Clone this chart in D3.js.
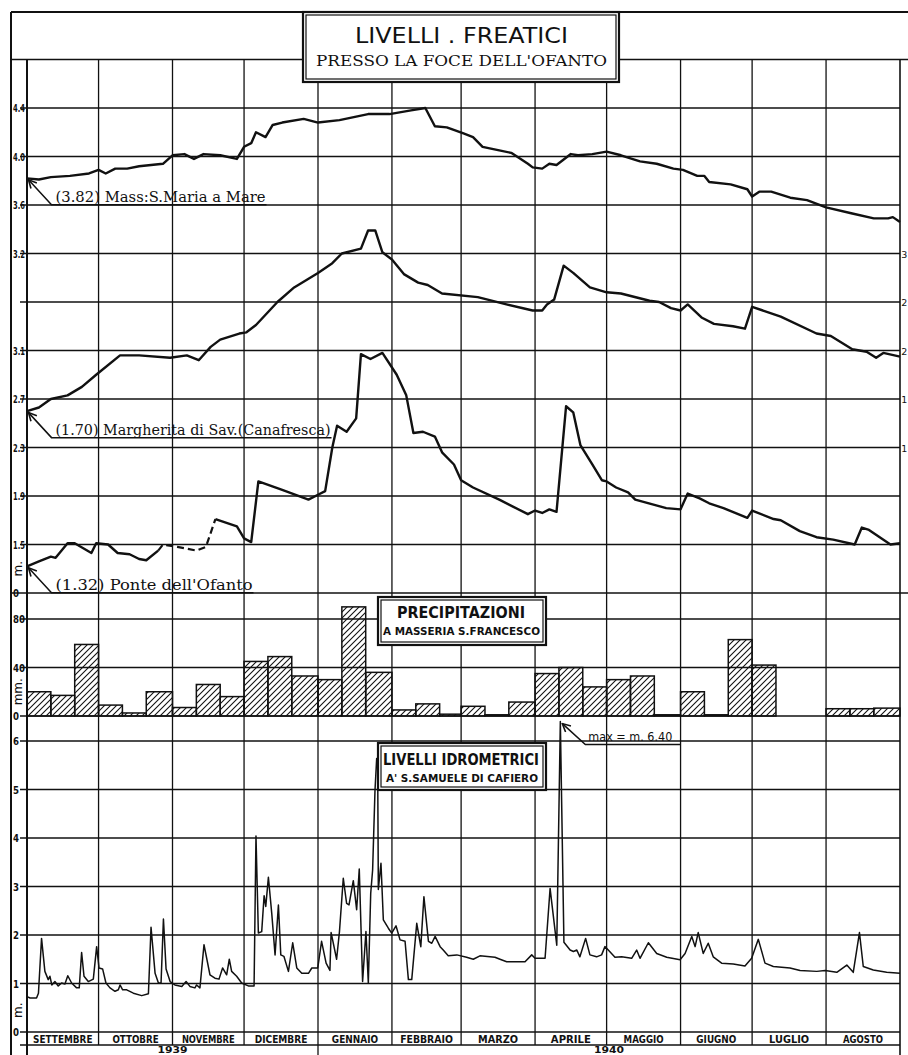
<!DOCTYPE html>
<html>
<head>
<meta charset="utf-8">
<script src="https://d3js.org/d3.v7.min.js"></script>
<style>
  body { margin: 0; background: #fff; }
  text { fill: #111; }
</style>
</head>
<body>
<div id="viz-wrapper"></div>
<script>
let width = 908,
    height = 1055;

// hydrological year Sep 1939 - Aug 1940 (1940 is a leap year)
let months = ['SETTEMBRE', 'OTTOBRE', 'NOVEMBRE', 'DICEMBRE', 'GENNAIO', 'FEBBRAIO',
              'MARZO', 'APRILE', 'MAGGIO', 'GIUGNO', 'LUGLIO', 'AGOSTO'];
let monthDays = [30, 31, 30, 31, 31, 29, 31, 30, 31, 30, 31, 31];
let years = [{label: '1939', from: 0, to: 4}, {label: '1940', from: 4, to: 12}];

// phreatic levels: [days since 1 Sep 1939, metres]
let massMaria = [[0,3.82],[5,3.81],[10,3.83],[18,3.84],[26,3.86],[30,3.89],[33,3.86],[37,3.90],[42,3.90],[47,3.92],
  [57,3.94],[61,4.01],[66,4.02],[70,3.98],[74,4.02],[81,4.01],[88,3.98],[91,4.08],[94,4.11],[96,4.20],[100,4.16],
  [103,4.26],[107,4.28],[116,4.31],[122,4.28],[131,4.30],[143,4.35],[152,4.35],[161,4.38],[167,4.40],[171,4.25],
  [176,4.24],[183,4.19],[187,4.16],[191,4.08],[198,4.05],[203,4.03],[210,3.94],[212,3.91],[216,3.90],[219,3.94],
  [222,3.93],[228,4.02],[231,4.01],[237,4.02],[243,4.04],[249,4.01],[257,3.96],[264,3.94],[271,3.90],[275,3.89],
  [281,3.84],[284,3.84],[286,3.79],[295,3.77],[302,3.73],[304,3.67],[307,3.71],[312,3.71],[320,3.66],[327,3.64],
  [335,3.58],[346,3.53],[355,3.49],[361,3.49],[363,3.50],[366,3.46]];

let margherita = [[0,1.70],[5,1.73],[10,1.80],[17,1.83],[23,1.90],[29,2.00],[39,2.16],[47,2.16],[60,2.14],[67,2.16],
  [72,2.12],[77,2.23],[81,2.29],[89,2.34],[92,2.35],[96,2.41],[105,2.60],[112,2.72],[117,2.78],[122,2.84],[128,2.92],
  [132,3.00],[140,3.04],[143,3.19],[146,3.19],[149,3.01],[153,2.95],[158,2.83],[164,2.76],[168,2.74],[174,2.67],
  [189,2.64],[201,2.58],[212,2.53],[216,2.53],[218,2.58],[221,2.62],[225,2.90],[229,2.84],[236,2.72],[243,2.68],
  [249,2.67],[261,2.61],[265,2.60],[270,2.55],[274,2.53],[277,2.58],[283,2.47],[288,2.42],[296,2.40],[301,2.38],
  [304,2.56],[316,2.48],[331,2.34],[337,2.32],[346,2.21],[352,2.19],[356,2.14],[359,2.18],[366,2.15]];

let ponteOfanto = [[0,1.32],[5,1.36],[10,1.40],[12,1.39],[17,1.51],[20,1.51],[27,1.43],[29,1.51],[34,1.50],[38,1.43],
  [43,1.42],[47,1.38],[50,1.37],[55,1.45],[57,1.50],[63,1.48],[71,1.45],[75,1.48],[79,1.71],[88,1.65],[91,1.55],
  [94,1.52],[97,2.02],[107,1.95],[118,1.87],[122,1.91],[125,1.94],[128,2.30],[130,2.48],[134,2.43],[138,2.54],
  [140,3.07],[144,3.03],[149,3.08],[155,2.90],[159,2.73],[162,2.42],[166,2.43],[171,2.39],[174,2.26],[179,2.16],
  [182,2.03],[187,1.97],[198,1.87],[210,1.75],[213,1.78],[216,1.76],[219,1.79],[222,1.77],[226,2.64],[229,2.59],
  [232,2.32],[237,2.16],[241,2.03],[243,2.02],[247,1.97],[252,1.93],[255,1.87],[268,1.80],[274,1.79],[277,1.92],
  [282,1.88],[286,1.84],[292,1.80],[302,1.72],[304,1.78],[313,1.71],[316,1.70],[324,1.61],[331,1.56],[338,1.54],
  [347,1.50],[350,1.64],[353,1.62],[362,1.50],[366,1.51]];
let ponteGap = [55, 79]; // stretch drawn dashed (uncertain readings)

// rainfall at Masseria S.Francesco, mm per decade (3 per month)
let rain = [20,17,59, 9,2.5,20, 7,26,16, 45,49,33, 30,90,36, 5,10,1.5,
            8,1,11.5, 35,40,24, 30,33,1, 20,1,63, 42,0,0, 6,6,6.5];

// river stage at S.Samuele di Cafiero: [days since 1 Sep 1939, metres]
let hydro = [[0,0.73],[1.3,0.70],[4,0.70],[4.8,0.80],[6.1,1.93],[7.5,1.25],[8.9,1.08],[9.6,1.15],[10.4,0.97],
  [11.7,1.04],[13.1,0.95],[14.5,1.01],[15.9,0.99],[17.1,1.16],[18.7,1.01],[20.8,0.91],[21.9,0.91],[22.9,1.64],
  [23.9,1.15],[25.7,1.04],[27.8,1.09],[29.2,1.76],[30.2,1.32],[31.7,1.30],[33.1,1.01],[34.8,0.91],[36.9,0.84],
  [38.3,0.87],[39,0.97],[40.1,0.87],[41.8,0.87],[44.6,0.80],[48.1,0.75],[50.9,0.79],[52,2.16],[53.7,1.21],
  [55.1,1.01],[56.2,1.01],[57.2,2.33],[58.3,1.30],[60,1.04],[62,0.97],[64.9,0.94],[66.7,1.04],[68.3,0.94],
  [70.4,0.91],[71.1,0.97],[72.5,0.91],[74.2,1.80],[76.7,1.18],[78.8,1.11],[80.5,1.09],[82,1.32],[83.7,1.18],
  [84.8,1.50],[85.8,1.25],[87.9,1.15],[90,1.01],[92.8,0.95],[95.2,0.95],[96,4.04],[97,2.04],[98.4,2.07],
  [99.4,2.81],[100.1,2.59],[101.2,3.19],[102.6,2.45],[104,1.59],[105.4,2.62],[106.4,1.59],[107.7,1.56],
  [109.6,1.25],[111.4,1.84],[113.1,1.32],[115.2,1.21],[118,1.21],[119.4,1.32],[121.9,1.32],[123.5,1.87],
  [125.4,1.42],[127,1.27],[127.5,2.05],[129.8,1.50],[131,2.07],[132.6,3.17],[134,2.65],[135,2.62],[136.8,3.12],
  [138.2,2.52],[139.3,3.36],[140.7,1.04],[142.1,2.07],[143.1,1.01],[144.1,2.86],[144.9,3.34],[145.9,4.99],
  [146.6,5.64],[147,5.64],[147.3,2.94],[148.4,3.48],[149.4,2.31],[151.5,2.14],[152.9,2.04],[154.7,2.19],
  [156.4,1.90],[158.5,1.87],[159.9,1.08],[161.3,1.08],[163.4,2.24],[165.1,1.76],[166.4,2.79],[168.3,1.87],
  [169.7,1.83],[171.1,1.97],[173.2,1.76],[174.5,1.69],[176.6,1.57],[180.2,1.59],[184.3,1.54],[187.1,1.50],
  [189.9,1.57],[194.1,1.55],[196.2,1.54],[198.3,1.50],[201.1,1.45],[208.8,1.45],[211.6,1.59],[213,1.52],
  [217.2,1.52],[219.3,2.96],[222.1,1.79],[223.6,6.40],[225.1,1.85],[227.7,1.69],[229.1,1.66],[230.5,1.69],
  [231.8,1.55],[234.2,1.93],[236,1.59],[238.8,1.55],[240.9,1.59],[242.3,1.76],[243.7,1.69],[246.5,1.54],
  [249.3,1.55],[253.5,1.52],[255.6,1.69],[257,1.52],[260.5,1.84],[264,1.62],[268.2,1.54],[273.8,1.49],
  [275.9,1.62],[278.7,1.97],[280.1,1.76],[281.4,2.05],[283.5,1.62],[285.6,1.83],[287.7,1.55],[291.2,1.42],
  [296.1,1.40],[301,1.36],[303.8,1.52],[306.6,1.91],[309.4,1.42],[312.9,1.35],[319.9,1.32],[324.1,1.27],
  [331.1,1.25],[334.6,1.27],[339.5,1.23],[343.7,1.38],[346.4,1.23],[349,2.05],[350.6,1.35],[354.8,1.28],
  [360.4,1.23],[366,1.21]];

// tick labels
let massTicks = [4.4, 4.0, 3.6, 3.2];
let ponteTicks = [3.1, 2.7, 2.3, 1.9, 1.5];
let margTicks = [3.0, 2.6, 2.2, 1.8, 1.4];
let rainTicks = [80, 40, 0];
let hydroTicks = [6, 5, 4, 3, 2, 1, 0];

// series labels
let seriesLabels = [
  {text: '(3.82) Mass:S.Maria a Mare', data: massMaria, len: 210},
  {text: '(1.70) Margherita di Sav.(Canafresca)', data: margherita, len: 275},
  {text: "(1.32) Ponte  dell'Ofanto", data: ponteOfanto, len: 197}
];

let ink = '#111';
let monthStart = Array.from(d3.cumsum([0].concat(monthDays)));

// Scales
let xScale = d3.scaleLinear().domain([0, 366]).range([27, 900]);
let yMass = d3.scaleLinear().domain([3.2, 4.4]).range([253.5, 108]);
let yMarg = d3.scaleLinear().domain([1.4, 3.0]).range([447.5, 253.5]);
let yPonte = d3.scaleLinear().domain([1.5, 3.1]).range([544.5, 350.5]);
let yRain = d3.scaleLinear().domain([0, 80]).range([716, 619]);
let yHydro = d3.scaleLinear().domain([0, 6]).range([1032, 741]);
seriesLabels[0].y = yMass; seriesLabels[1].y = yMarg; seriesLabels[2].y = yPonte;

let plotTop = yPonte(5.5), upperBottom = yPonte(1.1), stripBottom = 1045;

let svg = d3.select('#viz-wrapper')
            .append('svg')
            .attr('width', width)
            .attr('height', height)
            .style('background', '#fff');

let defs = svg.append('defs');
defs.append('pattern')
    .attr('id', 'hatch')
    .attr('patternUnits', 'userSpaceOnUse')
    .attr('width', 6).attr('height', 6)
  .append('path')
    .attr('d', 'M-1,1 l2,-2 M0,6 l6,-6 M5,7 l2,-2')
    .attr('stroke', ink).attr('stroke-width', 1.1);
// open arrow head, tip on the start of the leader
defs.append('marker')
    .attr('id', 'arrow')
    .attr('viewBox', '0 0 10 10')
    .attr('refX', 9).attr('refY', 5)
    .attr('markerWidth', 10).attr('markerHeight', 10)
    .attr('markerUnits', 'userSpaceOnUse')
    .attr('orient', 'auto-start-reverse')
  .append('path')
    .attr('d', 'M1,1 L9,5 L1,9')
    .attr('fill', 'none').attr('stroke', ink).attr('stroke-width', 1.6);

let grid = svg.append('g').attr('stroke', ink).attr('fill', 'none');

// Frame
grid.append('line').attr('x1', 11).attr('x2', width).attr('y1', 12).attr('y2', 12).attr('stroke-width', 2);
grid.append('line').attr('x1', 11).attr('x2', 11).attr('y1', 12).attr('y2', height).attr('stroke-width', 2);
grid.append('line').attr('x1', 11).attr('x2', width).attr('y1', plotTop).attr('y2', plotTop).attr('stroke-width', 1.6);
grid.append('line').attr('x1', 11).attr('x2', width).attr('y1', upperBottom).attr('y2', upperBottom).attr('stroke-width', 1.6);
grid.append('line').attr('x1', xScale(0)).attr('x2', xScale(0)).attr('y1', plotTop).attr('y2', height).attr('stroke-width', 2);
grid.append('line').attr('x1', xScale(366)).attr('x2', xScale(366)).attr('y1', plotTop).attr('y2', height).attr('stroke-width', 1.6);

// Horizontal grid lines
let hLines = d3.range(1, 11).map(i => yPonte(1.1 + 0.4 * i))
  .concat([yRain(80), yRain(40), yRain(0)])
  .concat(d3.range(1, 7).map(v => yHydro(v)))
  .concat([yHydro(0), stripBottom]);
grid.selectAll('line.h')
    .data(hLines)
    .enter().append('line')
    .attr('class', 'h')
    .attr('x1', 20).attr('x2', xScale(366))
    .attr('y1', d => d).attr('y2', d => d)
    .attr('stroke-width', 1.3);

// Month lines
grid.selectAll('line.m')
    .data(monthStart.slice(1, 12))
    .enter().append('line')
    .attr('class', 'm')
    .attr('x1', d => xScale(d)).attr('x2', d => xScale(d))
    .attr('y1', plotTop).attr('y2', stripBottom)
    .attr('stroke-width', 1.3);
grid.append('line')
    .attr('x1', xScale(monthStart[4])).attr('x2', xScale(monthStart[4]))
    .attr('y1', stripBottom).attr('y2', height)
    .attr('stroke-width', 1.3);

// Left tick labels
let tickText = function(sel, ticks, scale, fmt) {
  sel.selectAll(null)
     .data(ticks)
     .enter().append('text')
     .attr('x', 13)
     .attr('y', d => scale(d) + 4)
     .attr('font-family', 'DejaVu Sans')
     .attr('font-size', 11)
     .attr('font-weight', 'bold')
     .attr('textLength', d => fmt(d).length > 1 ? 12 : 6)
     .attr('lengthAdjust', 'spacingAndGlyphs')
     .text(fmt);
};
let labels = svg.append('g');
tickText(labels, massTicks, yMass, d3.format('.1f'));
tickText(labels, ponteTicks, yPonte, d3.format('.1f'));
tickText(labels, [1.1], yPonte, () => '0');
tickText(labels, rainTicks, yRain, d3.format('d'));
tickText(labels, hydroTicks, yHydro, d3.format('d'));

// Right tick labels (Margherita): only the units digit fits at the page edge
labels.selectAll('text.r')
    .data(margTicks)
    .enter().append('text')
    .attr('class', 'r')
    .attr('x', xScale(366) + 1.3)
    .attr('y', d => yMarg(d) + 4)
    .attr('font-family', 'DejaVu Sans')
    .attr('font-size', 9.5)
    .text(d => Math.floor(d));

// Unit labels
[{t: 'm.', y: yPonte(1.3)}, {t: 'mm.', y: yRain(20)}, {t: 'm.', y: yHydro(0.45)}].forEach(function(u) {
  labels.append('text')
      .attr('transform', 'translate(22,' + u.y + ') rotate(-90)')
      .attr('text-anchor', 'middle')
      .attr('font-family', 'DejaVu Sans')
      .attr('font-size', 12)
      .text(u.t);
});

// Precipitation bars, one per decade
let decades = [];
monthDays.forEach(function(n, i) {
  let s = monthStart[i];
  [[s, s + 10], [s + 10, s + 20], [s + 20, s + n]].forEach(function(b, k) {
    decades.push({from: b[0], to: b[1], value: rain[i * 3 + k]});
  });
});
svg.append('g')
    .selectAll('rect')
    .data(decades.filter(d => d.value > 0))
    .enter().append('rect')
    .attr('x', d => xScale(d.from))
    .attr('width', d => xScale(d.to) - xScale(d.from))
    .attr('y', d => yRain(d.value))
    .attr('height', d => yRain(0) - yRain(d.value))
    .attr('fill', 'url(#hatch)')
    .attr('stroke', ink)
    .attr('stroke-width', 1.5);

// Title boxes
let box = function(x0, y0, x1, y1) {
  let g = svg.append('g');
  g.append('rect').attr('x', x0).attr('y', y0).attr('width', x1 - x0).attr('height', y1 - y0)
   .attr('fill', '#fff').attr('stroke', ink).attr('stroke-width', 2.2);
  g.append('rect').attr('x', x0 + 3).attr('y', y0 + 3).attr('width', x1 - x0 - 6).attr('height', y1 - y0 - 6)
   .attr('fill', 'none').attr('stroke', ink).attr('stroke-width', 1.2);
  return g;
};
let boxText = function(g, t, x, y, size, len, family, weight) {
  g.append('text')
   .attr('x', x).attr('y', y)
   .attr('font-family', family)
   .attr('font-size', size)
   .attr('font-weight', weight)
   .attr('textLength', len)
   .attr('lengthAdjust', 'spacingAndGlyphs')
   .text(t);
};
let b1 = box(303, 12, 619, 82);
boxText(b1, 'LIVELLI . FREATICI', 355, 43, 21, 213, 'DejaVu Sans', 'normal');
boxText(b1, "PRESSO LA FOCE DELL'OFANTO", 316, 66, 15, 291, 'DejaVu Serif', 'normal');
let b2 = box(378, 597, 546, 645);
boxText(b2, 'PRECIPITAZIONI', 397, 618, 15, 128, 'DejaVu Sans', 'bold');
boxText(b2, 'A MASSERIA S.FRANCESCO', 383, 635, 10, 157, 'DejaVu Sans', 'bold');
let b3 = box(378, 743, 546, 790);
boxText(b3, 'LIVELLI IDROMETRICI', 383, 765, 15, 156, 'DejaVu Sans', 'bold');
boxText(b3, "A' S.SAMUELE DI CAFIERO", 386, 782, 10, 152, 'DejaVu Sans', 'bold');

// Curves
let lineOf = yScale => d3.line().x(d => xScale(d[0])).y(d => yScale(d[1]));
let curves = svg.append('g').attr('fill', 'none').attr('stroke', ink).attr('stroke-linejoin', 'round');

curves.append('path').datum(massMaria).attr('d', lineOf(yMass)).attr('stroke-width', 2.4);
curves.append('path').datum(margherita).attr('d', lineOf(yMarg)).attr('stroke-width', 2.4);
curves.append('path').datum(ponteOfanto.filter(d => d[0] <= ponteGap[0]))
    .attr('d', lineOf(yPonte)).attr('stroke-width', 2.4);
curves.append('path').datum(ponteOfanto.filter(d => d[0] >= ponteGap[0] && d[0] <= ponteGap[1]))
    .attr('d', lineOf(yPonte)).attr('stroke-width', 2.2).attr('stroke-dasharray', '7,4');
curves.append('path').datum(ponteOfanto.filter(d => d[0] >= ponteGap[1]))
    .attr('d', lineOf(yPonte)).attr('stroke-width', 2.4);
curves.append('path').datum(hydro).attr('d', lineOf(yHydro)).attr('stroke-width', 1.5);

// Series labels with leader arrows
seriesLabels.forEach(function(s) {
  let x0 = xScale(s.data[0][0]) + 1.5, y0 = s.y(s.data[0][1]) + 1.5;
  let yl = y0 + 25;
  svg.append('path')
     .attr('d', 'M' + x0 + ',' + y0 + 'L' + (x0 + 23) + ',' + yl + 'H' + (x0 + 28 + s.len))
     .attr('fill', 'none').attr('stroke', ink).attr('stroke-width', 1.5)
     .attr('marker-start', 'url(#arrow)');
  svg.append('text')
     .attr('x', x0 + 27).attr('y', yl - 3)
     .attr('font-family', 'DejaVu Serif')
     .attr('font-size', 15)
     .attr('textLength', s.len)
     .attr('lengthAdjust', 'spacingAndGlyphs')
     .text(s.text);
});

// Maximum of the river stage
let peak = hydro.reduce((a, b) => b[1] > a[1] ? b : a);
let px = xScale(peak[0]) + 2, py = yHydro(peak[1]) + 2;
svg.append('path')
   .attr('d', 'M' + px + ',' + py + 'L' + (px + 23) + ',' + (py + 21) + 'H' + xScale(monthStart[9]))
   .attr('fill', 'none').attr('stroke', ink).attr('stroke-width', 1.5)
   .attr('marker-start', 'url(#arrow)');
svg.append('text')
   .attr('x', px + 26).attr('y', py + 17)
   .attr('font-family', 'DejaVu Sans')
   .attr('font-size', 13)
   .attr('textLength', 84)
   .attr('lengthAdjust', 'spacingAndGlyphs')
   .text('max = m. ' + d3.format('.2f')(peak[1]));

// Month strip
svg.append('g')
    .selectAll('text')
    .data(months)
    .enter().append('text')
    .attr('x', (d, i) => (xScale(monthStart[i]) + xScale(monthStart[i + 1])) / 2)
    .attr('y', stripBottom - 2.5)
    .attr('text-anchor', 'middle')
    .attr('font-family', 'DejaVu Sans')
    .attr('font-size', 10.5)
    .attr('font-weight', 'bold')
    .attr('textLength', d => Math.max(40, d.length * 6.6))
    .attr('lengthAdjust', 'spacingAndGlyphs')
    .text(d => d);

svg.append('g')
    .selectAll('text')
    .data(years)
    .enter().append('text')
    .attr('x', d => (xScale(monthStart[d.from]) + xScale(monthStart[d.to])) / 2)
    .attr('y', 1052.9)
    .attr('text-anchor', 'middle')
    .attr('font-family', 'DejaVu Sans')
    .attr('font-size', 8.5)
    .attr('font-weight', 'bold')
    .attr('textLength', 30)
    .attr('lengthAdjust', 'spacingAndGlyphs')
    .text(d => d.label);
</script>
</body>
</html>
